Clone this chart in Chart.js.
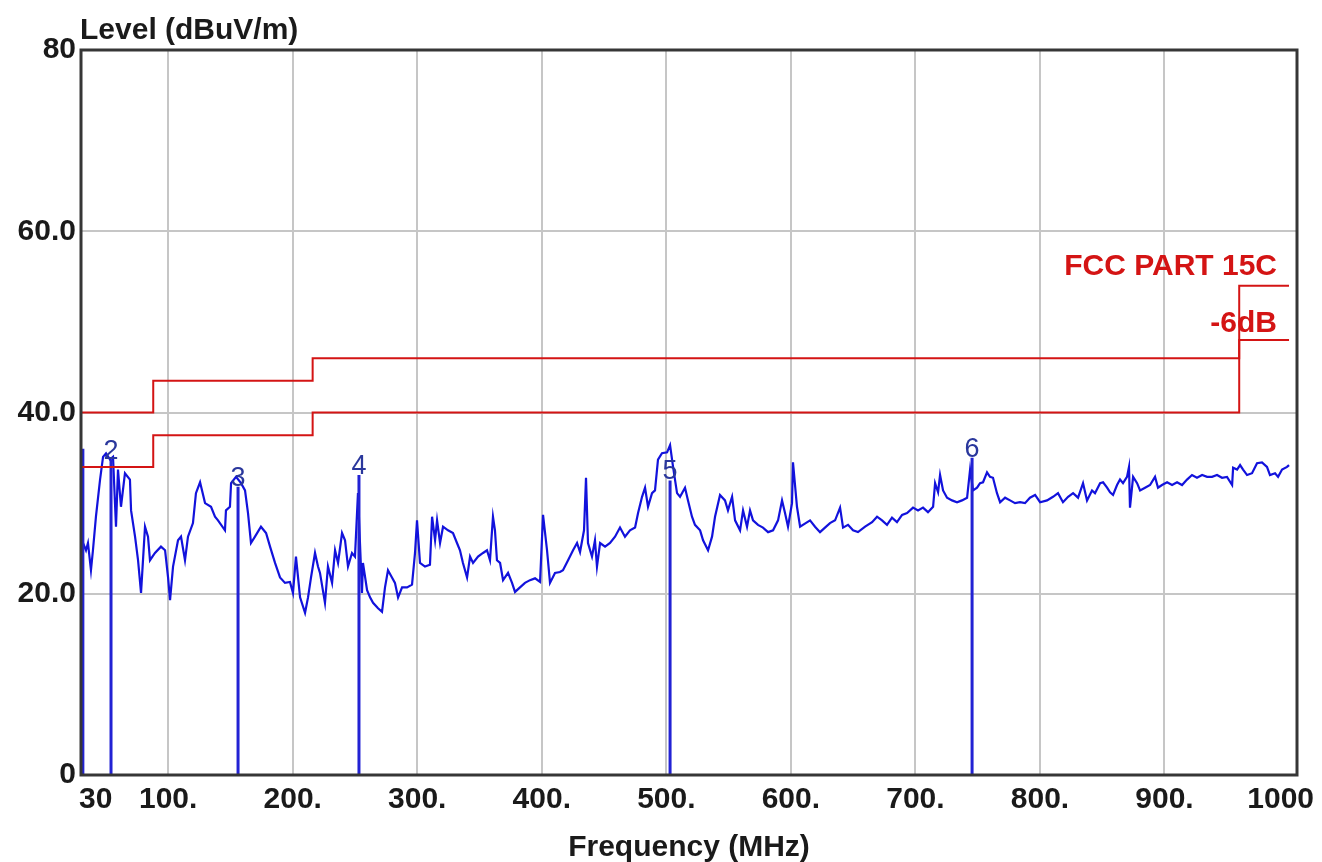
<!DOCTYPE html>
<html>
<head>
<meta charset="utf-8">
<title>Level (dBuV/m)</title>
<script src="https://cdn.jsdelivr.net/npm/chart.js@4.4.1/dist/chart.umd.min.js"></script>
<style>
    html, body { margin: 0; padding: 0; background: #fff; }
    #grafico { display: block; }
</style>
</head>
<body>
<canvas id="grafico" width="1322" height="862"></canvas>
<script>
/* Varredura medida (MHz / dBuV/m) */
const traceFreq = [
    30, 31.6, 34.0, 35.6, 38.0, 39.6, 42.0, 45.3, 47.7, 50.1, 53.3, 55.7, 58.1, 59.7, 62.1, 65.3,
    69.3, 70.2, 73.4, 75.8, 78.2, 81.4, 83.8, 85.4, 89.4, 94.2, 97.5, 99.9, 101.5, 103.9, 107.9, 110.3,
    113.5, 115.9, 119.9, 122.3, 125.6, 129.6, 134.4, 137.6, 140.0, 145.6, 146.4, 149.6, 150.5, 154.5, 158.5, 161.7,
    164.1, 166.5, 169.7, 174.5, 178.6, 181.8, 185.8, 189.8, 193.8, 197.8, 200.2, 202.6, 205.9, 209.9, 212.3, 214.7,
    217.9, 220.3, 221.9, 225.9, 228.3, 231.6, 234.0, 236.4, 239.6, 242.0, 244.4, 247.6, 250.0, 252.4, 255.6, 256.4,
    259.7, 262.1, 264.5, 268.5, 271.7, 274.1, 276.5, 279.7, 282.1, 284.6, 287.8, 291.8, 295.8, 298.2, 299.8, 302.2,
    306.2, 310.2, 311.9, 314.3, 315.9, 318.3, 320.7, 324.7, 328.7, 331.9, 334.3, 336.7, 340.0, 342.4, 344.8, 348.8,
    352.8, 356.0, 358.4, 360.8, 362.4, 364.0, 366.5, 368.9, 372.9, 376.1, 378.5, 382.5, 386.5, 390.5, 394.6, 398.6,
    401.0, 404.2, 406.6, 410.6, 414.6, 417.0, 421.1, 425.1, 428.3, 430.7, 433.9, 435.5, 437.1, 440.3, 442.7, 444.3,
    446.8, 450.8, 454.8, 458.8, 462.8, 466.8, 470.8, 474.9, 477.3, 480.5, 482.9, 485.3, 488.5, 490.9, 493.3, 496.5,
    500.6, 503.0, 505.4, 508.6, 511.0, 515.0, 517.4, 520.6, 523.0, 527.1, 529.5, 533.5, 536.7, 539.1, 543.1, 547.1,
    549.5, 552.8, 555.2, 559.2, 561.6, 564.8, 567.2, 569.6, 573.6, 577.6, 581.7, 585.7, 589.7, 592.9, 595.3, 597.7,
    600.9, 601.7, 604.9, 607.4, 615.4, 619.4, 623.4, 627.4, 631.4, 635.5, 639.5, 641.9, 645.9, 649.9, 653.9, 659.6,
    665.2, 669.2, 673.2, 677.2, 681.2, 685.2, 689.3, 693.3, 698.1, 702.1, 706.1, 710.1, 714.2, 715.8, 718.2, 719.8,
    722.2, 725.4, 729.4, 733.4, 737.4, 741.5, 743.9, 746.3, 749.5, 751.9, 754.3, 757.5, 759.9, 762.3, 765.5, 768.0,
    772.0, 776.0, 780.0, 784.0, 788.0, 792.0, 796.1, 800.1, 805.7, 810.5, 814.5, 818.5, 822.6, 826.6, 830.6, 834.6,
    837.8, 841.8, 844.2, 848.3, 850.7, 853.9, 856.3, 858.7, 861.9, 864.3, 866.7, 869.9, 871.5, 872.3, 874.8, 878.0,
    880.4, 884.4, 888.4, 892.4, 894.8, 898.0, 902.1, 906.1, 910.1, 914.1, 918.1, 922.1, 926.1, 930.2, 934.2, 938.2,
    942.2, 946.2, 950.2, 954.3, 955.1, 958.3, 960.7, 963.1, 966.3, 970.3, 974.3, 978.3, 982.3, 984.7, 988.8, 991.2,
    994.4, 998.4, 1000
];
const traceLevel = [
    26.0, 25.6, 24.8, 25.6, 22.6, 24.8, 28.5, 32.6, 35.1, 35.5, 34.8, 35.1, 27.4, 33.7, 29.6, 33.3,
    32.6, 29.2, 26.3, 23.7, 20.1, 27.4, 26.3, 23.7, 24.5, 25.2, 24.8, 21.8, 19.3, 23.0, 25.9, 26.3,
    23.7, 26.3, 27.8, 31.1, 32.3, 30.0, 29.6, 28.5, 28.1, 27.0, 29.2, 29.6, 32.2, 32.9, 32.2, 31.4,
    28.9, 25.6, 26.3, 27.4, 26.7, 25.2, 23.4, 21.8, 21.2, 21.3, 20.1, 24.1, 19.6, 17.9, 19.6, 21.8,
    24.5, 23.0, 22.3, 19.0, 23.0, 21.2, 24.8, 23.4, 26.7, 25.9, 23.0, 24.5, 24.1, 31.1, 20.1, 23.4,
    20.4, 19.6, 19.0, 18.4, 18.0, 20.7, 22.6, 21.8, 21.2, 19.6, 20.7, 20.7, 21.0, 24.5, 28.1, 23.4,
    23.0, 23.2, 28.5, 25.9, 28.1, 25.6, 27.4, 27.0, 26.7, 25.6, 24.8, 23.4, 21.8, 24.1, 23.4, 24.1,
    24.5, 24.8, 23.7, 28.5, 27.0, 23.7, 23.4, 21.5, 22.3, 21.2, 20.2, 20.7, 21.2, 21.5, 21.7, 21.3,
    28.7, 24.8, 21.2, 22.3, 22.4, 22.6, 23.7, 24.8, 25.6, 24.6, 27.0, 32.8, 25.6, 24.1, 25.9, 23.0,
    25.6, 25.2, 25.6, 26.3, 27.3, 26.3, 27.0, 27.3, 28.9, 30.7, 31.7, 29.6, 31.1, 31.4, 34.8, 35.5,
    35.6, 36.4, 34.0, 31.1, 30.7, 31.7, 30.3, 28.5, 27.6, 27.0, 25.9, 24.8, 26.3, 28.5, 30.9, 30.3,
    29.2, 30.7, 28.1, 27.0, 29.2, 27.4, 29.2, 28.1, 27.6, 27.3, 26.8, 27.0, 28.1, 30.3, 28.9, 27.4,
    30.0, 34.5, 29.6, 27.4, 28.1, 27.4, 26.8, 27.3, 27.8, 28.1, 29.5, 27.3, 27.6, 27.0, 26.8, 27.4,
    27.9, 28.5, 28.1, 27.6, 28.4, 27.9, 28.7, 28.9, 29.5, 29.2, 29.5, 29.0, 29.6, 32.2, 31.2, 33.1,
    31.4, 30.6, 30.3, 30.1, 30.3, 30.6, 33.7, 31.4, 31.7, 32.2, 32.3, 33.4, 32.9, 32.8, 31.1, 30.1,
    30.6, 30.3, 30.0, 30.1, 30.0, 30.6, 30.9, 30.1, 30.3, 30.7, 31.1, 30.1, 30.7, 31.1, 30.6, 32.2,
    30.3, 31.4, 31.1, 32.2, 32.3, 31.7, 31.2, 30.9, 32.0, 32.6, 32.2, 32.9, 34.0, 29.5, 32.9, 32.2,
    31.4, 31.7, 32.0, 32.9, 31.7, 32.0, 32.3, 32.0, 32.3, 32.0, 32.6, 33.1, 32.8, 33.1, 32.9, 32.9,
    33.1, 32.8, 32.9, 32.0, 33.9, 33.7, 34.2, 33.7, 33.1, 33.3, 34.4, 34.5, 34.0, 33.1, 33.3, 32.9,
    33.7, 34.0, 34.2
];

/* Limite FCC PART 15C e margem de -6dB (degraus) */
const limitFreq = [30, 88, 216, 960, 1000];
const limitLevel = [40, 43.5, 46, 54, 54];
const marginLevel = [34, 37.5, 40, 48, 48];

/* Marcadores (linhas verticais numeradas) */
const markerFreq = [31.5, 54.1, 156.1, 253.2, 503.0, 745.5];
const markerLevel = [36.0, 34.8, 31.8, 33.1, 32.5, 35.0];
const markerLabels = ["", "2", "3", "4", "5", "6"];

/* Eixos */
const xTickValues = [30, 100, 200, 300, 400, 500, 600, 700, 800, 900, 1000];
const xTickLabels = ["30", "100.", "200.", "300.", "400.", "500.", "600.", "700.", "800.", "900.", "1000"];
const yTickValues = [0, 20, 40, 60, 80];
const yTickLabels = ["0", "20.0", "40.0", "60.0", "80"];

const fonte = '"Liberation Sans", Arial, sans-serif';
const cinzaGrade = "#c6c6c6";
const vermelho = "#d41414";
const azul = "#1212dc";

/* Monta pares {x, y} a partir dos arrays */
function pares(xs, ys) {
    return xs.map((x, i) => ({ x: x, y: ys[i] }));
}

/* Desenha fundo, moldura e textos */
const moldura = {
    id: "moldura",
    beforeDraw(chart) {
        const c = chart.ctx;
        c.save();
        c.fillStyle = "#ffffff";
        c.fillRect(0, 0, chart.width, chart.height);
        c.restore();
    },
    afterDraw(chart) {
        const c = chart.ctx;
        const a = chart.chartArea;
        const sx = chart.scales.x;
        const sy = chart.scales.y;
        c.save();

        // Moldura da área do gráfico
        c.strokeStyle = "#363636";
        c.lineWidth = 3;
        c.strokeRect(a.left, a.top, a.right - a.left, a.bottom - a.top);

        // Título do eixo Y e do eixo X
        c.fillStyle = "#1a1a1a";
        c.font = "bold 30px " + fonte;
        c.textBaseline = "alphabetic";
        c.textAlign = "left";
        c.fillText("Level (dBuV/m)", a.left - 1, 39);
        c.textAlign = "center";
        c.fillText("Frequency (MHz)", (a.left + a.right) / 2, 856);

        // Rótulos do eixo X (primeiro e último ficam dentro da moldura)
        xTickValues.forEach((v, i) => {
            const txt = xTickLabels[i];
            const w = c.measureText(txt).width;
            let px = sx.getPixelForValue(v);
            px = Math.max(px, a.left - 2 + w / 2);
            px = Math.min(px, 1314 - w / 2);
            c.fillText(txt, px, 808);
        });

        // Números dos marcadores
        c.fillStyle = "#2a379c";
        c.font = "27px " + fonte;
        markerFreq.forEach((f, i) => {
            if (!markerLabels[i]) return;
            c.fillText(markerLabels[i], sx.getPixelForValue(f), sy.getPixelForValue(markerLevel[i]) - 1);
        });

        // Legenda do limite
        c.fillStyle = vermelho;
        c.font = "bold 30px " + fonte;
        c.textAlign = "right";
        c.fillText("FCC PART 15C", 1277, 275);
        c.fillText("-6dB", 1277, 332);
        c.restore();
    },
};

/* Linhas verticais dos marcadores */
const marcadores = markerFreq.map((f, i) => ({
    data: [{ x: f, y: 0 }, { x: f, y: markerLevel[i] }],
    borderColor: "#2222d4",
    borderWidth: 3,
    pointRadius: 0,
    order: 2,
}));

const ctx = document.getElementById("grafico").getContext("2d");
new Chart(ctx, {
    type: "line",
    data: {
        datasets: [
            {
                data: pares(limitFreq, limitLevel),
                borderColor: vermelho,
                borderWidth: 2,
                pointRadius: 0,
                stepped: true,
                order: 1,
            },
            {
                data: pares(limitFreq, marginLevel),
                borderColor: vermelho,
                borderWidth: 2,
                pointRadius: 0,
                stepped: true,
                order: 1,
            },
            ...marcadores,
            {
                data: pares(traceFreq, traceLevel),
                borderColor: azul,
                borderWidth: 2.2,
                pointRadius: 0,
                tension: 0,
                order: 3,
            },
        ],
    },
    options: {
        responsive: false,
        devicePixelRatio: 1,
        animation: false,
        layout: { padding: { top: 50, right: 25, left: 0, bottom: 0 } },
        plugins: { legend: { display: false }, tooltip: { enabled: false } },
        scales: {
            x: {
                type: "linear",
                min: 30,
                max: 1006.4,
                afterBuildTicks: (s) => { s.ticks = xTickValues.map((v) => ({ value: v })); },
                afterFit: (s) => { s.height = 87; },
                ticks: { display: false },
                grid: {
                    color: (c) => (c.tick && (c.tick.value === 30 || c.tick.value === 1000)) ? "rgba(0,0,0,0)" : cinzaGrade,
                    lineWidth: 2,
                    drawTicks: false,
                },
                border: { display: false },
            },
            y: {
                min: 0,
                max: 80,
                afterBuildTicks: (s) => { s.ticks = yTickValues.map((v) => ({ value: v })); },
                afterFit: (s) => { s.width = 81; },
                ticks: {
                    callback: (v) => yTickLabels[yTickValues.indexOf(v)],
                    font: { family: fonte, size: 30, weight: "bold" },
                    color: "#1a1a1a",
                    padding: 5,
                },
                grid: {
                    color: (c) => (c.tick && (c.tick.value === 0 || c.tick.value === 80)) ? "rgba(0,0,0,0)" : cinzaGrade,
                    lineWidth: 2,
                    drawTicks: false,
                },
                border: { display: false },
            },
        },
    },
    plugins: [moldura],
});
</script>
</body>
</html>
